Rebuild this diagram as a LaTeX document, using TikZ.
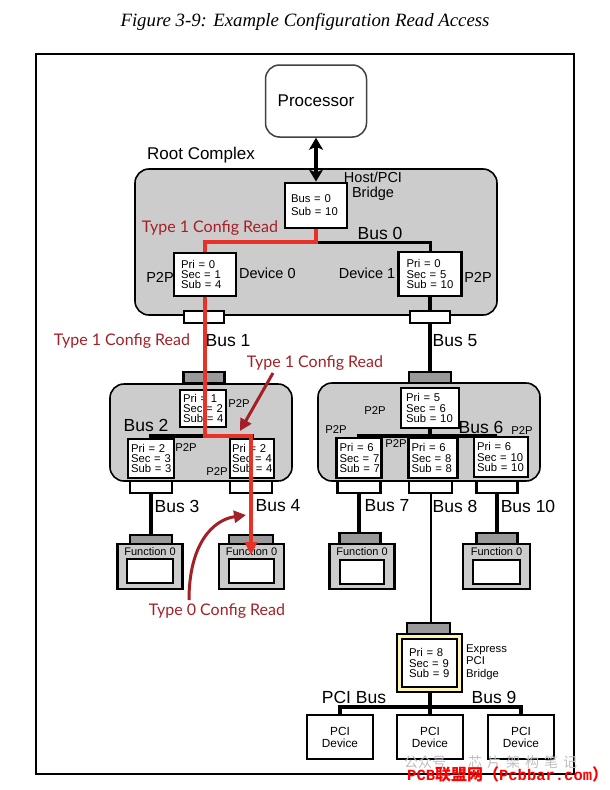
\documentclass[tikz,border=0pt]{standalone}
\usepackage{fontspec}
\newfontfamily\hv{Liberation Sans}
\newfontfamily\lato{Lato}
\newfontfamily\cjk{Noto Sans CJK SC}
\newfontfamily\monob{Liberation Mono}
\newfontfamily\tserif{Liberation Serif}
\usetikzlibrary{arrows.meta}
\definecolor{bred}{RGB}{232,50,40}
\definecolor{dred}{RGB}{163,32,38}
\definecolor{lgray}{RGB}{205,204,204}
\definecolor{pgray}{RGB}{153,153,153}
\definecolor{ylw}{RGB}{255,244,176}
\definecolor{wmgray}{RGB}{190,190,190}
\newcommand\fBus{\hv\fontsize{17.5}{20}\selectfont}
\newcommand\fMid{\hv\fontsize{14.5}{15}\selectfont}
\newcommand\fBx{\hv\fontsize{11.3}{10.3}\selectfont}
\newcommand\fSm{\hv\fontsize{11.3}{12.5}\selectfont}
\newcommand\fRed{\lato\fontsize{16}{18}\selectfont}
\begin{document}
\begin{tikzpicture}[x=1pt,y=-1pt,
 brg/.style={draw,line width=2.8pt,fill=white,inner sep=0pt,align=left,font=\fBx},
 wport/.style={draw,line width=2.8pt,fill=white,inner sep=0pt,minimum height=12pt},
 gport/.style={draw,line width=2.8pt,fill=pgray,inner sep=0pt,minimum height=11pt},
 swbox/.style={draw,line width=1.6pt,fill=lgray,rounded corners=14pt,inner sep=0pt},
 busl/.style={line width=4pt},
 redl/.style={draw=bred,line width=3.2pt},
 darr/.style={draw=dred,line width=3pt,-{Triangle[length=12pt,width=12pt]}},
 blab/.style={font=\fBus,inner sep=0pt},
 mlab/.style={font=\fMid,inner sep=0pt},
 slab/.style={font=\fSm,inner sep=0pt},
 rlab/.style={font=\fRed,text=dred,inner sep=0pt},
 epout/.style={draw,line width=2.8pt,fill=lgray,inner sep=0pt,minimum width=65pt,minimum height=45pt},
 epin/.style={draw,line width=2.8pt,fill=white,inner sep=0pt,minimum width=46pt,minimum height=24pt},
 pcid/.style={draw,line width=2.8pt,fill=white,inner sep=0pt,minimum width=66pt,minimum height=44pt,align=center,font=\hv\fontsize{11.8}{12}\selectfont}
]
\useasboundingbox (0,0) rectangle (610,790);
% title and frame
\node[inner sep=0pt] (title) at (305,22) {\tserif\itshape\fontsize{18.8}{20}\selectfont Figure 3-9: Example Configuration Read Access};
\node[draw,line width=1.3pt,minimum width=538pt,minimum height=720pt,inner sep=0pt] (frame) at (305,414) {};

% processor and root complex
\node[draw=black!75,line width=1.5pt,rounded corners=14pt,minimum width=101pt,minimum height=72pt,inner sep=0pt,font=\hv\fontsize{17}{18}\selectfont] (proc) at (316,101) {Processor};
\node[inner sep=0pt,font=\hv\fontsize{17}{18}\selectfont] (rclab) at (201,155) {Root Complex};
\node[swbox,minimum width=362pt,minimum height=146pt] (rc) at (316,242) {};
\node[brg,font=\hv\fontsize{11.3}{13}\selectfont,minimum width=62pt,minimum height=45pt,text width=50pt] (hb) at (316,205.5) {Bus~=~0\\Sub~=~10};
\node[mlab,align=center] (hblab) at (373,186.5) {Host/PCI\\Bridge};
\draw[line width=4pt,{Stealth[length=12pt,width=14pt,inset=3pt]}-{Stealth[length=12pt,width=14pt,inset=3pt]}] (proc.south) -- (hb.north);

\node[brg,minimum width=62pt,minimum height=43pt,text width=48pt] (d0) at (205,274.5) {Pri~=~0\\Sec~=~1\\Sub~=~4};
\node[brg,minimum width=63pt,minimum height=44pt,text width=47pt] (d1) at (430,274) {Pri~=~0\\Sec~=~5\\Sub~=~10};
\node[mlab] (p2pa) at (160,277) {P2P};
\node[mlab] (p2pb) at (478,277) {P2P};
\node[mlab,anchor=west] (dev0) at (239,273) {Device 0};
\node[mlab] (dev1) at (367,273) {Device 1};
\node[blab] (bus0) at (380,233) {Bus 0};
\node[rlab] (t1a) at (210,228) {Type 1 Config Read};
\coordinate (b0) at (316,242);
\draw[busl,line width=3pt] (b0) -- (b0 -| d1.north) -- (d1.north);

% ports under root complex
\node[wport,minimum width=40pt] (p0) at (204,317) {};
\node[wport,minimum width=40pt] (p1) at (430,317) {};
\draw[busl] (d1.south) -- (p1.north);

% bus labels 1 and 5
\node[blab] (bus1) at (228,341) {Bus 1};
\node[blab] (bus5) at (455,341) {Bus 5};
\node[rlab] (t1b) at (122,341) {Type 1 Config Read};

% left switch
\node[gport,minimum width=41pt] (uL) at (204,377.5) {};
\node[swbox,minimum width=182pt,minimum height=97pt] (sL) at (201,432.5) {};
\node[brg,minimum width=46pt,minimum height=37pt,text width=40pt] (bL) at (203,408.5) {Pri~=~1\\Sec~=~2\\Sub~=~4};
\node[brg,minimum width=46pt,minimum height=39pt,text width=40pt] (bL3) at (151,458.5) {Pri~=~2\\Sec~=~3\\Sub~=~3};
\node[brg,minimum width=44pt,minimum height=39pt,text width=40pt] (bL4) at (252,458.5) {Pri~=~2\\Sec~=~4\\Sub~=~4};
\node[slab] (p2pc) at (239,404) {P2P};
\node[slab] (p2pd) at (186,448) {P2P};
\node[slab] (p2pe) at (217,472) {P2P};
\node[blab] (bus2) at (146,425) {Bus 2};
\coordinate (b2) at (151,436);
\draw[busl,line width=3.5pt] (bL3.north) -- (b2) -- (b2 -| bL4.north) -- (bL4.north);
\node[wport,minimum width=42pt] (pL3) at (151,487) {};
\node[wport,minimum width=42pt] (pL4) at (251,487) {};

% right switch
\node[gport,minimum width=42pt,minimum height=12pt] (uR) at (430,378) {};
\draw[busl] (p1.south) -- (uR.north);
\node[swbox,minimum width=222pt,minimum height=98pt] (sR) at (429,432) {};
\node[brg,minimum width=58pt,minimum height=40pt,text width=48pt] (bR) at (430,408) {Pri~=~5\\Sec~=~6\\Sub~=~10};
\node[brg,minimum width=45pt,minimum height=40pt,text width=39pt] (bR7) at (359,458) {Pri~=~6\\Sec~=~7\\Sub~=~7};
\node[brg,minimum width=49pt,minimum height=40pt,text width=43pt] (bR8) at (433,458) {Pri~=~6\\Sec~=~8\\Sub~=~8};
\node[brg,minimum width=54pt,minimum height=40pt,text width=48pt] (bR10) at (501,457) {Pri~=~6\\Sec~=~10\\Sub~=~10};
\coordinate (c7) at (359,436);
\coordinate (c10) at (497,436);
\draw[busl,line width=3.5pt] (bR7.north) -- (c7) -- (c10) -- (c10 |- bR10.north);
\draw[busl,line width=3.5pt] (bR.south) -- (bR.south |- c7);
\draw[busl,line width=3.5pt] (bR.south |- c7) -- (bR.south |- bR8.north);
\node[slab] (p2pf) at (375,411) {P2P};
\node[slab] (p2pg) at (336,430) {P2P};
\node[slab] (p2ph) at (396,444) {P2P};
\node[slab] (p2pi) at (522,431) {P2P};
\node[blab] (bus6) at (481,427) {Bus 6};
\node[wport,minimum width=43pt] (pR7) at (359,487) {};
\node[wport,minimum width=43pt] (pR8) at (430.5,487) {};
\node[wport,minimum width=41pt] (pR10) at (497,487) {};

% endpoints
\node[gport,minimum width=42pt,minimum height=9pt] (E3p) at (151,539.5) {};
\node[epout] (E3) at (150,566.5) {};
\node[epin] (E3i) at (150,571) {};
\node[slab,font=\hv\fontsize{11}{12}\selectfont] (E3l) at (150,552) {Function 0};
\draw[busl] (pL3.south) -- (E3p.north);

\node[gport,minimum width=44pt,minimum height=9pt] (E4p) at (251,539.5) {};
\node[epout] (E4) at (251.5,566.5) {};
\node[epin,minimum width=45pt] (E4i) at (251.5,571) {};
\node[slab,font=\hv\fontsize{11}{12}\selectfont] (E4l) at (251.5,552) {Function 0};

\node[gport,minimum width=41pt,minimum height=11pt] (E7p) at (360,538.5) {};
\node[epout] (E7) at (362,566.5) {};
\node[epin,minimum width=44pt] (E7i) at (362,572) {};
\node[slab,font=\hv\fontsize{11}{12}\selectfont] (E7l) at (362,552) {Function 0};
\draw[busl] (pR7.south) -- (pR7.south |- E7p.north);

\node[gport,minimum width=41pt,minimum height=11pt] (E10p) at (497,538.5) {};
\node[epout,minimum width=67pt] (E10) at (496.5,566.5) {};
\node[epin,minimum width=47pt] (E10i) at (496.5,572) {};
\node[slab,font=\hv\fontsize{11}{12}\selectfont] (E10l) at (496.5,552) {Function 0};
\draw[busl] (pR10.south) -- (E10p.north);

\node[blab] (bus3) at (177,506) {Bus 3};
\node[blab] (bus4) at (278,506) {Bus 4};
\node[blab] (bus7) at (387,506) {Bus 7};
\node[blab] (bus8) at (455,506) {Bus 8};
\node[blab] (bus10) at (528,506) {Bus 10};

% express bridge
\node[gport,minimum width=43pt,minimum height=12pt] (Xp) at (428.5,629) {};
\draw[line width=2pt] (pR8.south) -- (pR8.south |- Xp.north);
\node[draw,line width=2.5pt,fill=ylw,inner sep=0pt,minimum width=65pt,minimum height=58pt] (Xo) at (429.5,663) {};
\node[brg,line width=2.5pt,minimum width=55pt,minimum height=48pt,text width=41pt] (Xi) at (429.5,663) {Pri~=~8\\Sec~=~9\\Sub~=~9};
\node[slab,align=left,anchor=west] (xlab) at (466,662) {Express\\PCI\\Bridge};

% PCI bus
\node[pcid] (P1) at (340,737) {PCI\\Device};
\node[pcid] (P2) at (430,737) {PCI\\Device};
\node[pcid] (P3) at (521,737) {PCI\\Device};
\coordinate (pb) at (429.5,707);
\draw[busl] (Xo.south) -- (pb);
\draw[busl] (P1.north) -- (P1.north |- pb) -- (P3.north |- pb) -- (P3.north);
\draw[busl] (pb) -- (pb -| P2.north) -- (P2.north);
\node[blab] (pcibus) at (354,697) {PCI Bus};
\node[blab] (bus9) at (494,697) {Bus 9};

% red config read path
\coordinate (tip4) at (251,555);
\draw[redl] (hb.south) -- (b0) -- (b0 -| d0.north) -- (d0.north);
\draw[redl,-{Triangle[length=13pt,width=12pt]}] (d0.south) -- (d0.south |- b2) -- (b2 -| tip4) -- (tip4);

% annotation arrows
\node[rlab] (t1c) at (315,363) {Type 1 Config Read};
\coordinate (a1s) at (273,373);
\coordinate (a1e) at (240,431);
\draw[darr] (a1s) -- (a1e);
\node[rlab] (t0) at (217,611) {Type 0 Config Read};
\coordinate (a0s) at (189,600);
\coordinate (a0e) at (246,515);
\draw[darr] (a0s) .. controls (189,545) and (212,520) .. (a0e);

% watermark
\node[inner sep=0pt,text=wmgray,font=\cjk\fontsize{14}{14}\selectfont,anchor=west] (wm1) at (404,762) {公众号\hspace{22pt}芯\hspace{5pt}片\hspace{5pt}架\hspace{5pt}构\hspace{5pt}笔\hspace{5pt}记};
\node[inner sep=0pt,text=red,anchor=west] (wm2) at (407,774) {{\monob\bfseries\fontsize{15.5}{16}\selectfont PCB}{\cjk\bfseries\fontsize{16}{16}\selectfont 联盟网（}{\monob\bfseries\fontsize{15.5}{16}\selectfont Pcbbar.com}{\cjk\bfseries\fontsize{16}{16}\selectfont ）}};
\end{tikzpicture}
\end{document}
